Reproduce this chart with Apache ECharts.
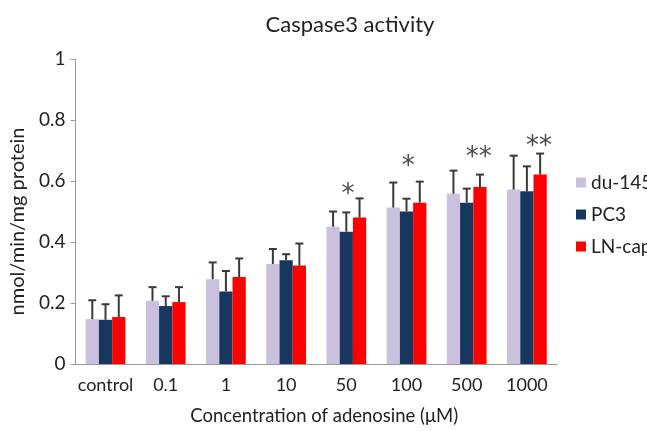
<!DOCTYPE html>
<html>
<head>
<meta charset="utf-8">
<script src="https://cdn.jsdelivr.net/npm/echarts@6/dist/echarts.min.js"></script>
<style>html,body{margin:0;padding:0;background:#fff;}#c{width:647px;height:431px;}</style>
</head>
<body>
<div id="c"></div>
<script>
const categories = ['control', '0.1', '1', '10', '50', '100', '500', '1000'];
const seriesNames = ['du-145', 'PC3', 'LN-cap'];
const du145 = [0.147, 0.207, 0.278, 0.328, 0.450, 0.513, 0.558, 0.572];
const du145Err = [0.209, 0.252, 0.333, 0.377, 0.500, 0.595, 0.634, 0.683];
const pc3 = [0.145, 0.190, 0.238, 0.340, 0.434, 0.500, 0.529, 0.566];
const pc3Err = [0.196, 0.222, 0.305, 0.360, 0.497, 0.542, 0.575, 0.648];
const lncap = [0.154, 0.203, 0.285, 0.323, 0.480, 0.529, 0.580, 0.621];
const lncapErr = [0.225, 0.252, 0.346, 0.395, 0.543, 0.598, 0.621, 0.690];
const starLabels = ['', '', '', '', '*', '*', '**', '**'];
const starValues = [0, 0, 0, 0, 0.578, 0.670, 0.700, 0.736];
const yTicks = [0, 0.2, 0.4, 0.6, 0.8, 1];

const colors = ['#c9c1dd', '#17375e', '#ff0000'];
const values = [du145, pc3, lncap];
const errs = [du145Err, pc3Err, lncapErr];
const FONT = 'Lato';
const BAND_FRAC = 0.22;
const STAR_SIZE = 26;

const series = [];
values.forEach((v, i) => {
  series.push({
    name: seriesNames[i], type: 'bar', data: v,
    itemStyle: { color: colors[i] },
    barGap: '0%', barCategoryGap: '34%', z: 2
  });
});
values.forEach((v, i) => {
  series.push({
    type: 'custom', z: 3, silent: true,
    data: v.map((val, k) => [k, val, errs[i][k]]),
    renderItem: function (params, api) {
      const band = api.size([1, 0])[0];
      const off = (i - 1) * band * BAND_FRAC;
      const p0 = api.coord([api.value(0), api.value(1)]);
      const p1 = api.coord([api.value(0), api.value(2)]);
      const x = p0[0] + off;
      const st = { stroke: '#3a3a3a', lineWidth: 2 };
      return { type: 'group', children: [
        { type: 'line', shape: { x1: x, y1: p0[1], x2: x, y2: p1[1] }, style: st },
        { type: 'line', shape: { x1: x - 4, y1: p1[1], x2: x + 4, y2: p1[1] }, style: st }
      ]};
    }
  });
});
series.push({
  type: 'custom', z: 4, silent: true,
  data: categories.map((c, k) => [k, starValues[k]]),
  renderItem: function (params, api) {
    const band = api.size([1, 0])[0];
    const p = api.coord([api.value(0), api.value(1)]);
    const label = starLabels[params.dataIndex];
    if (!label) return null;
    return { type: 'text', style: {
      x: p[0] + band * (label.length > 1 ? 0.2 : 0.03), y: p[1] + STAR_SIZE * 0.3,
      text: label, fill: '#4a4a4a', font: STAR_SIZE + 'px "DejaVu Sans"',
      textAlign: 'center', textVerticalAlign: 'middle'
    }};
  }
});

const chart = echarts.init(document.getElementById('c'), null, { renderer: 'canvas' });
chart.setOption({
  animation: false,
  backgroundColor: '#fff',
  title: {
    text: 'Caspase3 activity', left: 345, top: 9, textAlign: 'center',
    textStyle: { fontFamily: FONT, fontWeight: 'normal', fontSize: 22, color: '#222' }
  },
  legend: {
    data: seriesNames, orient: 'vertical', left: 571, top: 168,
    itemWidth: 10, itemHeight: 10, itemGap: 13, icon: 'rect',
    textStyle: { fontFamily: FONT, fontSize: 19, color: '#222' }
  },
  grid: { left: 73, right: 90, top: 59, bottom: 65 },
  xAxis: {
    type: 'category', data: categories,
    name: 'Concentration of adenosine (μM)', nameLocation: 'middle', nameGap: 43,
    nameTextStyle: { fontFamily: FONT, fontSize: 18.5, color: '#222', padding: [0, 0, 0, 16] },
    axisLine: { lineStyle: { color: '#999' } },
    axisTick: { show: false },
    axisLabel: { interval: 0, fontFamily: FONT, fontSize: 18, color: '#222', margin: 12 }
  },
  yAxis: {
    type: 'value', min: 0, max: 1, interval: 0.2,
    name: 'nmol/min/mg protein', nameLocation: 'middle', nameGap: 46,
    nameTextStyle: { fontFamily: FONT, fontSize: 20, color: '#222', padding: [0, 20, 0, 0] },
    axisLine: { show: true, lineStyle: { color: '#999' } },
    axisTick: { show: true, length: 5, lineStyle: { color: '#999' } },
    splitLine: { show: false },
    axisLabel: { fontFamily: FONT, fontSize: 19, color: '#222', margin: 10,
      formatter: v => { const t = yTicks.find(y => Math.abs(y - v) < 1e-9); return String(t); } }
  },
  series: series
});
</script>
</body>
</html>
